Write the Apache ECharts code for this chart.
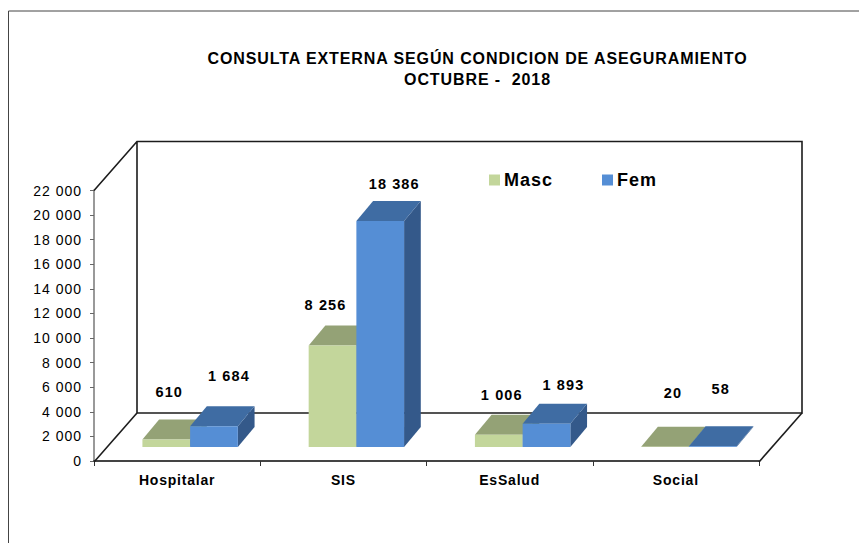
<!DOCTYPE html>
<html>
<head>
<meta charset="utf-8">
<style>
html,body{margin:0;padding:0;background:#fff}
#c{width:859px;height:543px}
#c text{letter-spacing:1px}
#c text[style*="bold"]{letter-spacing:.8px}
#c text[style*="16px"]{letter-spacing:.9px}
#c text[style*="14.5px"]{letter-spacing:1.1px}
#c text[style*="18px"]{letter-spacing:1px}
</style>
<script src="https://cdn.jsdelivr.net/npm/echarts@6/dist/echarts.min.js"></script>
</head>
<body>
<div id="c"></div>
<script>
var titleLines = ['CONSULTA EXTERNA SEGÚN CONDICION DE ASEGURAMIENTO', 'OCTUBRE -  2018'];
var categories = ['Hospitalar', 'SIS', 'EsSalud', 'Social'];
var masc = [610, 8256, 1006, 20];
var fem = [1684, 18386, 1893, 58];
var mascLabels = ['610', '8 256', '1 006', '20'];
var femLabels = ['1 684', '18 386', '1 893', '58'];
var yMax = 22000;
var yStep = 2000;

// layout of the pseudo-3D drawing (pixels)
var wallDepth = [43, -49];
var barDepth = [16.7, -20];
var barShift = [13, -14];
var barBandShare = 0.287;
var mascNudge = [[3, -47], [-7, -40], [3, -40], [8, -54]];
var femNudge = [[15, -50], [14, -37], [17, -39], [8, -57]];

var FONT = '"Liberation Sans", Arial, sans-serif';

function poly(points, fill) {
  return { type: 'polygon', shape: { points: points }, style: { fill: fill, stroke: null } };
}

function barRenderer(side, colors, labels, nudges) {
  return function (params, api) {
    var i = api.value(0);
    var base = api.coord([i, 0]);
    var top = api.coord([i, api.value(1)]);
    var w = api.size([1, 0])[0] * barBandShare;
    var cx = base[0] + barShift[0] + side * w / 2;
    var x0 = cx - w / 2, x1 = cx + w / 2;
    var yb = base[1] + barShift[1], yt = top[1] + barShift[1];
    var dx = barDepth[0], dy = barDepth[1];
    var kids = [
      poly([[x1, yb], [x1 + dx, yb + dy], [x1 + dx, yt + dy], [x1, yt]], colors.side),
      poly([[x0, yt], [x0 + dx, yt + dy], [x1 + dx, yt + dy], [x1, yt]], colors.top),
      poly([[x0, yb], [x1, yb], [x1, yt], [x0, yt]], colors.front),
      {
        type: 'text', z2: 50,
        style: {
          text: labels[i], x: cx + nudges[i][0], y: yt + nudges[i][1],
          align: 'center', verticalAlign: 'middle',
          font: 'bold 14.5px ' + FONT, fill: '#000'
        }
      }
    ];
    return { type: 'group', children: kids };
  };
}

function wallRenderer(params, api) {
  var o = api.coord([0, 0]);
  var t = api.coord([0, yMax]);
  var r = api.coord([categories.length - 1, 0]);
  var w = api.size([1, 0])[0];
  var x0 = o[0] - w / 2, x1 = r[0] + w / 2;
  var dx = wallDepth[0], dy = wallDepth[1];
  var line = { stroke: '#1c1c1c', lineWidth: 1.6, fill: null };
  var floorY = o[1] + 1;
  return {
    type: 'group',
    children: [
      { type: 'polyline', shape: { points: [[x0, t[1]], [x0 + dx, t[1] + dy], [x1 + dx, t[1] + dy], [x1 + dx, floorY + dy], [x0 + dx, floorY + dy], [x0 + dx, t[1] + dy]] }, style: line },
      { type: 'polyline', shape: { points: [[x0, floorY], [x0 + dx, floorY + dy]] }, style: line },
      { type: 'polyline', shape: { points: [[x1, floorY], [x1 + dx, floorY + dy]] }, style: line }
    ]
  };
}

var mascColors = { front: '#c3d69b', top: '#94a276', side: '#7d8b62' };
var femColors = { front: '#558ed5', top: '#3f6ca3', side: '#34598a' };

var chart = echarts.init(document.getElementById('c'), null, { renderer: 'svg' });
chart.setOption({
  animation: false,
  backgroundColor: '#fff',
  title: {
    text: titleLines.join('\n'),
    left: 472.5, top: 43, textAlign: 'center',
    textStyle: { fontFamily: FONT, fontWeight: 'bold', fontSize: 16, lineHeight: 21, color: '#000' }
  },
  legend: {
    data: ['Masc', 'Fem'],
    left: 484, top: 166,
    icon: 'rect', itemWidth: 11, itemHeight: 11, itemGap: 53,
    textStyle: { fontFamily: FONT, fontWeight: 'bold', fontSize: 18, color: '#000', padding: [0, 0, 0, -1] },
    selectedMode: false
  },
  grid: { left: 94, right: 100, top: 190.5, bottom: 82, containLabel: false },
  xAxis: {
    type: 'category', data: categories,
    axisLine: { lineStyle: { color: '#444', width: 2 }, onZero: false },
    axisTick: { show: true, length: 5, lineStyle: { color: '#333' } },
    axisLabel: { fontFamily: FONT, fontWeight: 'bold', fontSize: 14, color: '#000', margin: 12 }
  },
  yAxis: {
    type: 'value', min: 0, max: yMax, interval: yStep,
    axisLine: { show: true, lineStyle: { color: '#999', width: 2 } },
    axisTick: { show: true, length: 4, lineStyle: { color: '#666' } },
    splitLine: { show: false },
    axisLabel: {
      fontFamily: FONT, fontSize: 14, color: '#000', margin: 12,
      formatter: function (v) {
        return v === 0 ? '0' : String(v).replace(/(\d{3})$/, ' $1');
      }
    }
  },
  graphic: [{
    type: 'polyline', silent: true,
    shape: { points: [[8.5, 543], [8.5, 11], [859, 11]] },
    style: { stroke: '#444', lineWidth: 1, fill: null }
  }],
  series: [
    { type: 'custom', name: 'walls', z: 1, silent: true, renderItem: wallRenderer, data: [[0, 0]], encode: { x: 0, y: 1 } },
    { type: 'custom', name: 'Masc', z: 2, silent: true, itemStyle: { color: mascColors.front },
      renderItem: barRenderer(-1, mascColors, mascLabels, mascNudge),
      data: masc.map(function (v, i) { return [i, v]; }), encode: { x: 0, y: 1 } },
    { type: 'custom', name: 'Fem', z: 3, silent: true, itemStyle: { color: femColors.front },
      renderItem: barRenderer(1, femColors, femLabels, femNudge),
      data: fem.map(function (v, i) { return [i, v]; }), encode: { x: 0, y: 1 } }
  ]
});
</script>
</body>
</html>
